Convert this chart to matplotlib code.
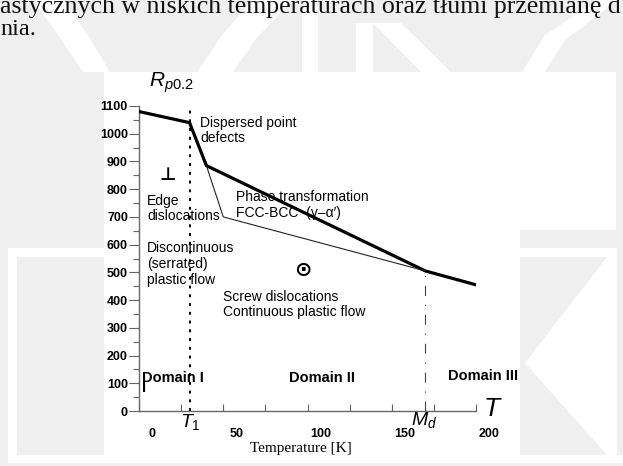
import matplotlib
matplotlib.use('Agg')
import matplotlib.pyplot as plt
from matplotlib.patches import Polygon
from matplotlib.ticker import MultipleLocator, FixedLocator
import matplotlib.transforms as mtransforms

plt.rcParams['font.family'] = ['Liberation Sans', 'DejaVu Sans']
plt.rcParams['mathtext.fontset'] = 'custom'
plt.rcParams['mathtext.it'] = 'Liberation Sans:italic'
plt.rcParams['mathtext.rm'] = 'Liberation Sans'

# data
thick_T = [0, 30, 40, 170, 200]
thick_R = [1080, 1040, 885, 505, 455]
thin_T = [40, 50, 170]
thin_R = [885, 700, 505]
T1 = 30
Md = 170
Md_R = 505
x_major = [0, 50, 100, 150, 200]
x_minor = [25, 75, 125, 175]
y_major = list(range(0, 1101, 100))

W, H = 623, 466
fig = plt.figure(figsize=(W / 100, H / 100), dpi=100)
fig.patch.set_facecolor('#efefef')


def px_poly(pts, color='white', z=0):
    xy = [(x / W, 1 - y / H) for x, y in pts]
    fig.patches.append(Polygon(xy, closed=True, transform=fig.transFigure,
                               facecolor=color, edgecolor='none', zorder=z))


def px_rect(x0, y0, x1, y1, color='white', z=0):
    px_poly([(x0, y0), (x1, y0), (x1, y1), (x0, y1)], color, z)


# watermark-ish page background
px_poly([(33, 0), (63, 0), (88, 35), (110, 72), (83, 72), (58, 35)])
px_poly([(253, 0), (293, 0), (255, 40), (233, 72), (197, 72), (222, 35)])
px_rect(302, 0, 318, 72)
px_rect(356, 23, 373, 72)
px_poly([(373, 23), (401, 23), (451, 72), (421, 72)])
px_poly([(598, 0), (618, 0), (565, 40), (545, 72), (522, 72), (545, 35)])
px_rect(520, 72, 616, 230)
px_rect(520, 248, 617, 455)
px_poly([(520, 257), (607, 257), (525, 363), (607, 455), (520, 455)], '#efefef', 1)
px_rect(8, 248, 104, 455)
px_rect(17, 257, 104, 455, '#efefef', 1)
px_rect(8, 455, 623, 463)
px_rect(104, 72, 520, 455, 'white', 2)

# bits of the page text above the figure
fig.text(0, 1 - 13 / H, 'astycznych w niskich temperaturach oraz tłumi przemianę d',
         family='Liberation Serif', fontsize=18.6, va='baseline', ha='left', color='#111111')
fig.text(0, 1 - 35 / H, 'nia.', family='Liberation Serif', fontsize=17.5,
         va='baseline', ha='left', color='#111111')

ax = fig.add_axes([139 / W, (H - 411) / H, 337 / W, 305 / H])
ax.set_zorder(3)
ax.patch.set_alpha(0)
ax.set_xlim(0, 200)
ax.set_ylim(0, 1100)

ax.plot(thick_T, thick_R, color='black', lw=2.3, solid_joinstyle='miter', zorder=4)
ax.plot(thin_T, thin_R, color='#222222', lw=0.8, zorder=4)
ax.plot([T1, T1], [0, 1095], color='black', lw=1.4, linestyle=(0, (1.5, 3)), zorder=3)
ax.plot([Md, Md], [0, Md_R], color='#444444', lw=0.8, linestyle=(0, (9, 8, 1, 8)), zorder=3)

for s in ['top', 'right']:
    ax.spines[s].set_visible(False)
for s in ['left', 'bottom']:
    ax.spines[s].set_color('#666666')
    ax.spines[s].set_linewidth(1.0)

ax.yaxis.set_major_locator(FixedLocator(y_major))
ax.yaxis.set_minor_locator(MultipleLocator(50))
ax.set_yticklabels([str(v) for v in y_major], fontweight='bold', fontsize=9)
ax.tick_params(axis='y', which='major', direction='out', length=7, width=0.8, color='#666666', pad=1)
ax.tick_params(axis='y', which='minor', direction='out', length=4, width=0.8, color='#666666')

ax.xaxis.set_major_locator(FixedLocator(x_major))
ax.xaxis.set_minor_locator(FixedLocator(x_minor))
ax.set_xticklabels([str(v) for v in x_major], fontweight='bold', fontsize=9)
ax.tick_params(axis='x', which='both', direction='in', length=5, width=0.8, color='#666666', pad=12)
offset = mtransforms.ScaledTranslation(13 / 100, 0, fig.dpi_scale_trans)
for lab in ax.get_xticklabels():
    lab.set_transform(lab.get_transform() + offset)

kw = dict(fontsize=10, ha='left', va='center', clip_on=False, zorder=5)
ax.text(6, 1183, r'$\mathit{R}_{\mathit{p0.2}}$', fontsize=15, ha='left', va='center', clip_on=False)
ax.text(30.5, -38, r'$\mathit{T}_{\mathit{1}}$', fontsize=14, ha='center', va='center', clip_on=False)
ax.text(169, -34, r'$\mathit{M}_{\mathit{d}}$', fontsize=14, ha='center', va='center', clip_on=False)
ax.text(204.5, 8, 'T', fontsize=19, style='italic', ha='left', va='center', clip_on=False)

ax.text(36.2, 1012, 'Dispersed point\ndefects', linespacing=1.1, **kw)
ax.text(17.2, 850, '⊥', fontsize=13, family='DejaVu Sans', fontweight='bold', ha='center', va='center')
ax.text(4.7, 730, 'Edge\ndislocations', linespacing=1.1, **kw)
ax.text(57.6, 743, "Phase transformation\nFCC-BCC  (γ–α′)", linespacing=1.1, **kw)
ax.text(4.7, 530, 'Discontinuous\n(serrated)\nplastic flow', linespacing=1.15, **kw)
ax.text(97.3, 508, '⊙', fontsize=15, family='DejaVu Sans', fontweight='bold', ha='center', va='center')
ax.text(49.9, 384, 'Screw dislocations\nContinuous plastic flow', linespacing=1.1, **kw)

bkw = dict(fontsize=10.5, fontweight='bold', ha='left', va='center', clip_on=False, zorder=5)
ax.text(1.8, 119, 'Domain I', **bkw)
ax.text(1.8, 84, 'I', **bkw)
ax.text(89, 119, 'Domain II', **bkw)
ax.text(183.4, 126, 'Domain III', **bkw)

ax.text(96, -137, 'Temperature [K]', family='Liberation Serif', fontsize=11,
        ha='center', va='center', clip_on=False)

fig.savefig('out.png', dpi=100, facecolor=fig.get_facecolor())
